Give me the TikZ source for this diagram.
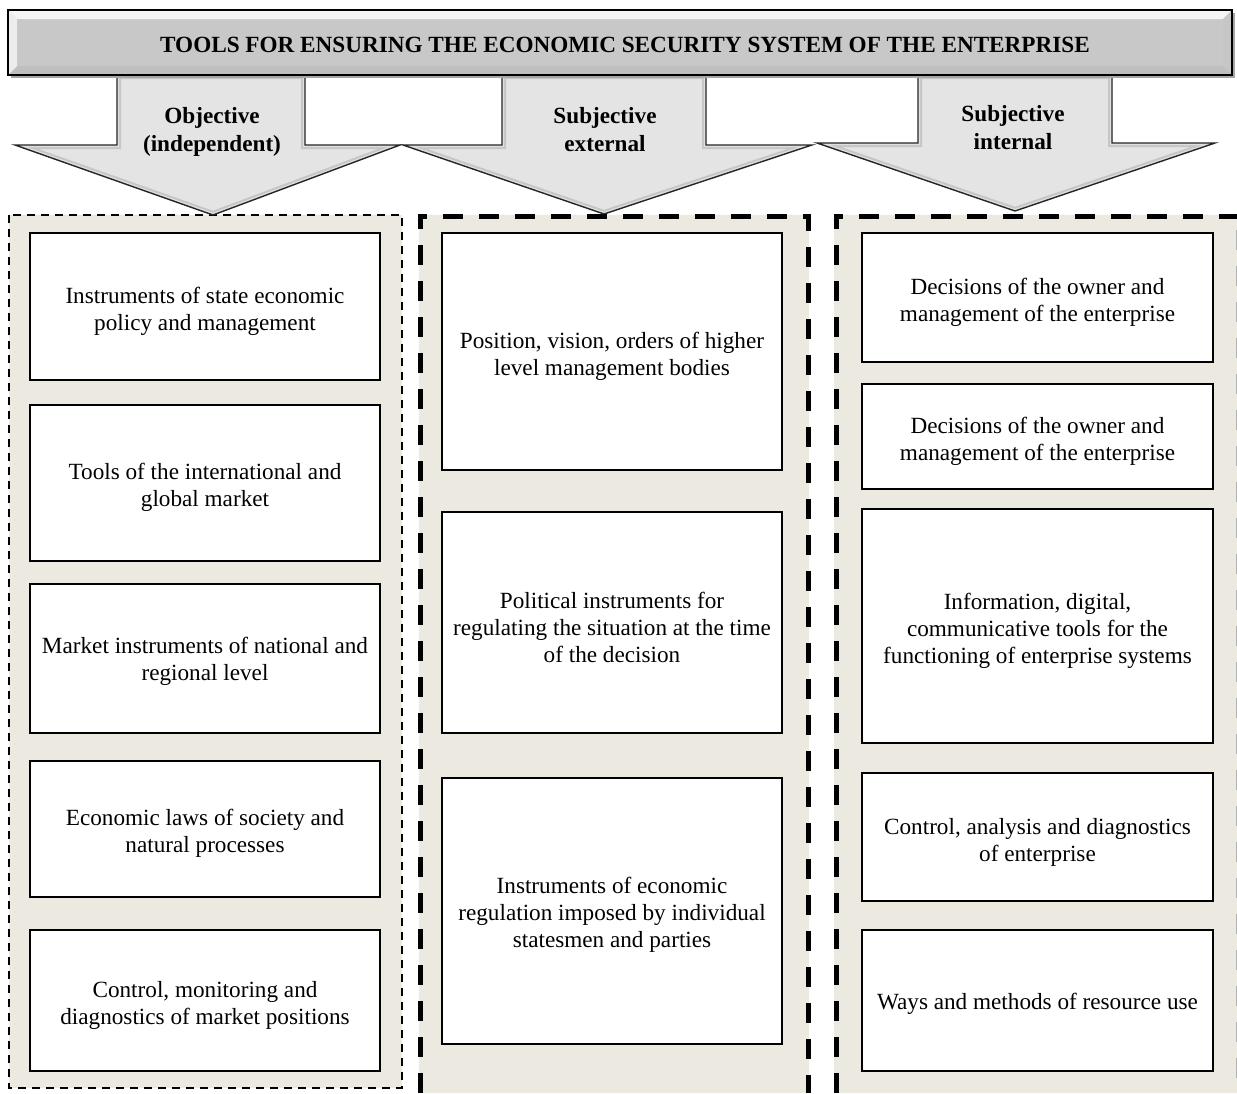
\documentclass[tikz,border=0pt]{standalone}
\usepackage{fontspec}
\setmainfont{Liberation Serif}
\usetikzlibrary{shadows}
\definecolor{panelbg}{RGB}{236,233,224}
\definecolor{arrowgray}{RGB}{228,228,228}
\definecolor{bannergray}{RGB}{200,200,200}
\newcommand\bevelarrow[1]{%
  \fill[arrowgray] #1;
  \begin{scope}\clip #1; \draw[gray!45, line width=8pt, line join=miter] #1; \end{scope}
  \begin{scope}\clip #1; \draw[gray!25, line width=4pt, line join=miter] #1; \end{scope}
  \draw[black!85, line width=1.4pt, line join=miter] #1;}
\begin{document}
\begin{tikzpicture}[x=1pt,y=-1pt,
  txt/.style={font=\fontsize{23.2}{27}\selectfont, align=center, inner sep=0pt},
  btxt/.style={font=\fontsize{23.2}{28}\selectfont\bfseries, align=center, inner sep=0pt},
  box/.style={draw=black, line width=1.3pt, fill=white, inner sep=0pt,
    drop shadow={shadow xshift=1.4pt, shadow yshift=-1.4pt, fill=black, opacity=1}},
  box1/.style={box, minimum width=350pt},
  box2/.style={box, minimum width=340pt},
  box3/.style={box, minimum width=351pt},
  thindash/.style={draw=black, line width=1.6pt, dash pattern=on 8pt off 6pt},
  thickdash/.style={draw=black, line width=5pt, dash pattern=on 20pt off 16pt},
  ]
\useasboundingbox (0,0) rectangle (1237,1093);
\fill[white] (0,0) rectangle (1237,1093);

% panels
\fill[panelbg] (9,215) rectangle (402,1088);
\draw[thindash] (9,215) rectangle (402,1088);
\fill[panelbg] (419,215) rectangle (809,1093);
\draw[thickdash] (420,1093) -- (420,216) -- (808,216) -- (808,1093);
\fill[panelbg] (834,215) rectangle (1237,1093);
\draw[thickdash] (836,1093) -- (836,216) -- (1237,216);
\draw[gray!60, line width=1pt, dash pattern=on 20pt off 16pt] (1236,230) -- (1236,1093);

% arrows
\bevelarrow{(117,75) -- (305,75) -- (305,145) -- (400,145) -- (213,215) -- (15,145) -- (117,145) -- cycle}
\bevelarrow{(502,75) -- (706,75) -- (706,145) -- (812,145) -- (604,214) -- (403,145) -- (502,145) -- cycle}
\bevelarrow{(918,75) -- (1112,75) -- (1112,143) -- (1215,143) -- (1015,211) -- (817,143) -- (918,143) -- cycle}
\node[btxt] (a1) at (212,132) {Objective\\(independent)};
\node[btxt] (a2) at (605,130) {Subjective\\external};
\node[btxt] (a3) at (1013,128) {Subjective\\internal};

% banner
\node[draw=black, line width=1.5pt, fill=bannergray, minimum width=1224pt, minimum height=65pt, inner sep=0pt,
  drop shadow={shadow xshift=3pt, shadow yshift=-3pt, fill=gray!70, opacity=1}] (banner) at (620,42.5) {};
\fill[gray!8] (9,11) -- (1231,11) -- (1223,19) -- (17,19) -- cycle;
\fill[gray!50] (9,74) -- (1231,74) -- (1223,66) -- (17,66) -- cycle;
\fill[gray!15] (9,11) -- (17,19) -- (17,66) -- (9,74) -- cycle;
\fill[gray!45] (1231,11) -- (1223,19) -- (1223,66) -- (1231,74) -- cycle;
\draw[black, line width=1.5pt] (8,10) rectangle (1232,75);
\node[btxt] (title) at (625,45) {TOOLS FOR ENSURING THE ECONOMIC SECURITY SYSTEM OF THE ENTERPRISE};

% column 1
\node[box1, minimum height=147pt] (b11) at (205,306.5) {};
\node[box1, minimum height=156pt] (b12) at (205,483) {};
\node[box1, minimum height=149pt] (b13) at (205,658.5) {};
\node[box1, minimum height=136pt] (b14) at (205,829) {};
\node[box1, minimum height=141pt] (b15) at (205,1000.5) {};
\node[txt] (t11) at (205,311) {Instruments of state economic\\policy and management};
\node[txt] (t12) at (205,487) {Tools of the international and\\global market};
\node[txt] (t13) at (205,661) {Market instruments of national and\\regional level};
\node[txt] (t14) at (205,833) {Economic laws of society and\\natural processes};
\node[txt] (t15) at (205,1005) {Control, monitoring and\\diagnostics of market positions};

% column 2
\node[box2, minimum height=237pt] (b21) at (612,351.5) {};
\node[box2, minimum height=221pt] (b22) at (612,622.5) {};
\node[box2, minimum height=266pt] (b23) at (612,911) {};
\node[txt] (t21) at (612,356) {Position, vision, orders of higher\\level management bodies};
\node[txt] (t22) at (612,627) {Political instruments for\\regulating the situation at the time\\of the decision};
\node[txt] (t23) at (612,915) {Instruments of economic\\regulation imposed by individual\\statesmen and parties};

% column 3
\node[box3, minimum height=129pt] (b31) at (1037.5,297.5) {};
\node[box3, minimum height=105pt] (b32) at (1037.5,436.5) {};
\node[box3, minimum height=234pt] (b33) at (1037.5,626) {};
\node[box3, minimum height=128pt] (b34) at (1037.5,837) {};
\node[box3, minimum height=141pt] (b35) at (1037.5,1000.5) {};
\node[txt] (t31) at (1037.5,302) {Decisions of the owner and\\management of the enterprise};
\node[txt] (t32) at (1037.5,441) {Decisions of the owner and\\management of the enterprise};
\node[txt] (t33) at (1037.5,631) {Information, digital,\\communicative tools for the\\functioning of enterprise systems};
\node[txt] (t34) at (1037.5,842) {Control, analysis and diagnostics\\of enterprise};
\node[txt] (t35) at (1037.5,1004) {Ways and methods of resource use};
\end{tikzpicture}
\end{document}
